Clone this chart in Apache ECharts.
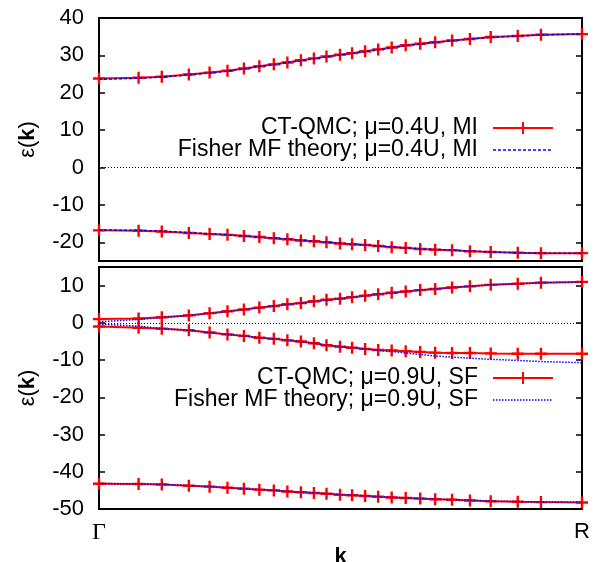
<!DOCTYPE html>
<html><head><meta charset="utf-8">
<script src="https://cdn.jsdelivr.net/npm/echarts@6/dist/echarts.min.js"></script>
<style>html,body{margin:0;padding:0;background:#fff}#c{width:596px;height:562px}</style>
</head><body><div id="c"></div>
<script>
// k path positions from Γ (0) to R (1)
const kPoints = [0, 0.082, 0.130, 0.186, 0.229, 0.266, 0.300, 0.332, 0.362, 0.390, 0.418, 0.445, 0.471, 0.499, 0.524, 0.551, 0.578, 0.606, 0.635, 0.665, 0.696, 0.731, 0.768, 0.811, 0.867, 0.915, 1.0];

// top panel: mu = 0.4U, MI
const topUpperQMC = [23.8, 24.0, 24.3, 24.9, 25.4, 25.9, 26.5, 27.1, 27.6, 28.1, 28.7, 29.2, 29.7, 30.2, 30.6, 31.1, 31.6, 32.1, 32.7, 33.1, 33.5, 34.0, 34.4, 34.9, 35.2, 35.5, 35.7];
const topLowerQMC = [-16.8, -16.9, -17.1, -17.5, -17.8, -18.0, -18.3, -18.6, -18.9, -19.2, -19.5, -19.7, -20.0, -20.3, -20.5, -20.7, -21.0, -21.3, -21.5, -21.8, -22.0, -22.1, -22.4, -22.6, -22.8, -22.9, -22.9];
const topUpperMF = [23.6, 23.9, 24.2, 24.8, 25.3, 25.8, 26.4, 27.0, 27.5, 28.1, 28.6, 29.1, 29.6, 30.1, 30.6, 31.0, 31.5, 32.0, 32.6, 33.0, 33.5, 33.9, 34.4, 34.8, 35.2, 35.5, 35.7];
const topLowerMF = [-16.7, -16.8, -17.0, -17.4, -17.7, -18.0, -18.3, -18.6, -18.9, -19.1, -19.4, -19.7, -20.0, -20.2, -20.5, -20.7, -21.0, -21.2, -21.5, -21.7, -21.9, -22.1, -22.3, -22.6, -22.8, -22.9, -22.9];

// bottom panel: mu = 0.9U, SF
const botUpperQMC = [1.0, 1.15, 1.5, 2.0, 2.6, 3.1, 3.6, 4.1, 4.5, 5.0, 5.3, 5.8, 6.2, 6.5, 6.9, 7.3, 7.7, 8.1, 8.4, 8.8, 9.1, 9.5, 9.8, 10.2, 10.5, 10.8, 11.0];
const botMiddleQMC = [-1.0, -1.3, -1.6, -2.0, -2.6, -3.1, -3.5, -4.0, -4.3, -4.7, -5.0, -5.5, -6.0, -6.4, -6.7, -7.0, -7.3, -7.4, -7.6, -7.8, -8.0, -8.1, -8.1, -8.2, -8.3, -8.3, -8.3];
const botLowerQMC = [-43.2, -43.3, -43.4, -43.75, -44.0, -44.3, -44.55, -44.8, -45.0, -45.3, -45.5, -45.7, -45.9, -46.2, -46.3, -46.5, -46.7, -46.9, -47.05, -47.2, -47.4, -47.5, -47.7, -47.9, -48.05, -48.15, -48.25];
const botUpperMF = [0.3, 0.9, 1.4, 2.0, 2.5, 3.0, 3.6, 4.0, 4.5, 4.9, 5.3, 5.7, 6.1, 6.5, 6.9, 7.3, 7.7, 8.0, 8.4, 8.8, 9.1, 9.5, 9.8, 10.2, 10.5, 10.8, 11.0];
const botMiddleMF = [-0.3, -0.9, -1.5, -2.0, -2.6, -3.1, -3.5, -4.0, -4.3, -4.7, -5.0, -5.5, -6.0, -6.4, -6.7, -7.0, -7.4, -7.7, -8.1, -8.5, -8.9, -9.2, -9.5, -9.8, -10.1, -10.4, -10.7];
const botLowerMF = [-43.15, -43.25, -43.35, -43.7, -43.95, -44.25, -44.5, -44.75, -44.95, -45.25, -45.45, -45.65, -45.85, -46.1, -46.25, -46.45, -46.65, -46.85, -47.0, -47.15, -47.35, -47.45, -47.65, -47.85, -48.0, -48.1, -48.2];

// tick labels
const yTicksTop = [-20, -10, 0, 10, 20, 30, 40];
const yTicksBottom = [-50, -40, -30, -20, -10, 0, 10];
const xTickValues = [0, 1];
const xTickLabels = ['Γ', 'R'];
const legendTop = ['CT-QMC; μ=0.4U, MI', 'Fisher MF theory; μ=0.4U, MI'];
const legendBottom = ['CT-QMC; μ=0.9U, SF', 'Fisher MF theory; μ=0.9U, SF'];

const FONT = "'Liberation Sans', Arial, Helvetica, sans-serif";
const FS = 22;
const LFS = 23;
const plus = 'path://M4,0H6V4H10V6H6V10H4V6H0V4H4Z';
const pairs = ys => ys.map((y, i) => [kPoints[i], y]);

function qmc(name, ys, gi, zero) {
  const s = {
    type: 'line', name, xAxisIndex: gi, yAxisIndex: gi * 2, data: pairs(ys),
    symbol: plus, symbolSize: 12, showSymbol: true, clip: false,
    itemStyle: { color: '#ff0000' }, lineStyle: { color: '#ff0000', width: 2 },
    z: 3, animation: false, silent: true
  };
  if (zero) s.markLine = {
    silent: true, symbol: 'none', label: { show: false }, animation: false,
    lineStyle: { color: '#000', width: 1, type: [1, 2] }, data: [{ yAxis: 0 }]
  };
  return s;
}
function mf(name, ys, gi, dash) {
  return {
    type: 'line', name, xAxisIndex: gi, yAxisIndex: gi * 2, data: pairs(ys),
    symbol: 'none', showSymbol: false, clip: false,
    lineStyle: { color: '#0000ff', width: 1.5, type: dash },
    z: 4, animation: false, silent: true
  };
}
function yAxes(gi, min, max, ticks) {
  return [
    { type: 'value', gridIndex: gi, position: 'left', min, max,
      name: 'ε({b|k})', nameLocation: 'middle', nameRotate: 90, nameGap: 60,
      nameTextStyle: { fontSize: FS, color: '#000', fontFamily: FONT,
        rich: { b: { fontSize: FS, fontWeight: 'bold', color: '#000', fontFamily: FONT } } },
      axisLine: { show: false }, splitLine: { show: false },
      axisTick: { inside: true, length: 6, customValues: ticks, lineStyle: { color: '#000', width: 1.5 } },
      axisLabel: { customValues: ticks, fontSize: FS, color: '#000', fontFamily: FONT, margin: 15 } },
    { type: 'value', gridIndex: gi, position: 'right', min, max,
      axisLine: { show: false }, splitLine: { show: false },
      axisTick: { inside: true, length: 6, customValues: ticks, lineStyle: { color: '#000', width: 1.5 } },
      axisLabel: { show: false } }
  ];
}
function legendItems(y1, texts, dash) {
  const y2 = y1 + 22;
  const tf = LFS + 'px ' + FONT;
  return [
    { type: 'text', x: 478, y: y1, style: { text: texts[0], font: tf, fill: '#000', align: 'right', verticalAlign: 'middle' } },
    { type: 'text', x: 478, y: y2, style: { text: texts[1], font: tf, fill: '#000', align: 'right', verticalAlign: 'middle' } },
    { type: 'line', shape: { x1: 493, y1: y1, x2: 553, y2: y1 }, style: { stroke: '#ff0000', lineWidth: 2 } },
    { type: 'line', shape: { x1: 523, y1: y1 - 6, x2: 523, y2: y1 + 6 }, style: { stroke: '#ff0000', lineWidth: 2 } },
    { type: 'line', shape: { x1: 493, y1: y2, x2: 553, y2: y2 }, style: { stroke: '#0000ff', lineWidth: 1.5, lineDash: dash } }
  ];
}

const chart = echarts.init(document.getElementById('c'), null, { renderer: 'canvas' });
chart.setOption({
  animation: false,
  backgroundColor: '#fff',
  grid: [
    { left: 99, top: 18, width: 483, height: 243, show: true, borderColor: '#000', borderWidth: 2,
      backgroundColor: 'transparent', containLabel: false, outerBoundsMode: 'none' },
    { left: 99, top: 267, width: 483, height: 242, show: true, borderColor: '#000', borderWidth: 2,
      backgroundColor: 'transparent', containLabel: false, outerBoundsMode: 'none' }
  ],
  xAxis: [
    { type: 'value', gridIndex: 0, min: 0, max: 1, axisLine: { show: false }, axisTick: { show: false },
      axisLabel: { show: false }, splitLine: { show: false } },
    { type: 'value', gridIndex: 1, min: 0, max: 1, interval: 1,
      name: 'k', nameLocation: 'middle', nameGap: 33,
      nameTextStyle: { fontSize: FS, fontWeight: 'bold', color: '#000', fontFamily: FONT },
      axisLine: { show: false }, axisTick: { show: false }, splitLine: { show: false },
      axisLabel: { customValues: xTickValues, margin: 12, color: '#000', fontSize: FS, fontFamily: FONT,
        formatter: v => v === 0 ? '{g|' + xTickLabels[0] + '}' : xTickLabels[1],
        rich: { g: { fontFamily: "'Liberation Serif', 'DejaVu Serif', serif", fontSize: FS + 2, color: '#000' } } } }
  ],
  yAxis: [...yAxes(0, -25, 40, yTicksTop), ...yAxes(1, -50, 15, yTicksBottom)],
  series: [
    qmc(legendTop[0], topUpperQMC, 0, true),
    qmc(legendTop[0], topLowerQMC, 0, false),
    mf(legendTop[1], topUpperMF, 0, [3, 2]),
    mf(legendTop[1], topLowerMF, 0, [3, 2]),
    qmc(legendBottom[0], botUpperQMC, 1, true),
    qmc(legendBottom[0], botMiddleQMC, 1, false),
    qmc(legendBottom[0], botLowerQMC, 1, false),
    mf(legendBottom[1], botUpperMF, 1, [1.5, 1.5]),
    mf(legendBottom[1], botMiddleMF, 1, [1.5, 1.5]),
    mf(legendBottom[1], botLowerMF, 1, [1.5, 1.5])
  ],
  graphic: [...legendItems(128, legendTop, [3, 2]), ...legendItems(378, legendBottom, [1.5, 1.5])]
});
</script>
</body></html>
